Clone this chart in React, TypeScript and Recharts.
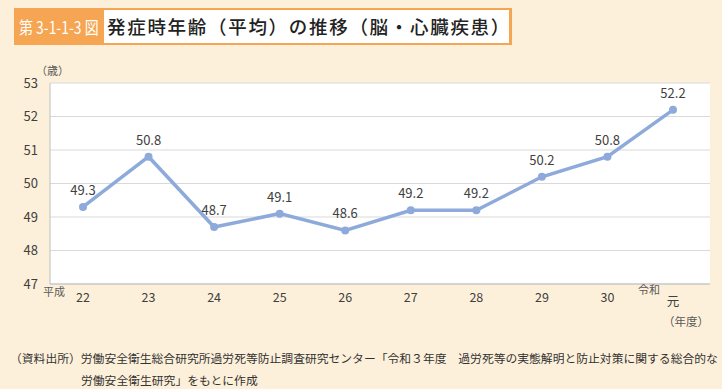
import React from "react";
import {
  LineChart, Line, XAxis, YAxis, CartesianGrid, LabelList,
} from "recharts";

const YEARS = ["22", "23", "24", "25", "26", "27", "28", "29", "30", "元"];
const AGE = [49.3, 50.8, 48.7, 49.1, 48.6, 49.2, 49.2, 50.2, 50.8, 52.2];
const Y_TICKS = [47, 48, 49, 50, 51, 52, 53];

const TITLE_NO = "第 3-1-1-3 図";
const TITLE = "発症時年齢（平均）の推移（脳・心臓疾患）";
const SOURCE_1 = "（資料出所）労働安全衛生総合研究所過労死等防止調査研究センター「令和３年度　過労死等の実態解明と防止対策に関する総合的な";
const SOURCE_2 = "労働安全衛生研究」をもとに作成";

const data = YEARS.map((y, i) => ({ year: y, age: AGE[i] }));

const FONT = "'Noto Sans CJK JP', 'Noto Sans', sans-serif";
const TXT = "#404040";

function YearTick(props: any) {
  const { x, y, payload, index } = props;
  const last = index === YEARS.length - 1;
  return (
    <g>
      {index === 0 && (
        <text x={x - 29} y={y + 1} fontSize={11} fill="#595959"
          textAnchor="middle" dominantBaseline="middle">平成</text>
      )}
      {last && (
        <text x={x - 24} y={y - 1} fontSize={11} fill="#595959"
          textAnchor="middle" dominantBaseline="middle">令和</text>
      )}
      <text x={x} y={last ? y + 11 : y + 7} fontSize={12.5} fill={TXT}
        textAnchor="middle" dominantBaseline="middle">{payload.value}</text>
    </g>
  );
}

export default function App() {
  return (
    <div style={{
      position: "absolute", left: 0, top: 0, width: 722, height: 389,
      background: "#fdf0da", fontFamily: FONT, overflow: "hidden",
    }}>
      {/* Title bar */}
      <div style={{
        position: "absolute", left: 14, top: 8, width: 498, height: 37,
        background: "#f6a552",
      }} />
      <div style={{
        position: "absolute", left: 19, top: 8, height: 37, lineHeight: "37px",
        color: "#fff", fontSize: 17, whiteSpace: "nowrap",
        transform: "scaleX(0.82)", transformOrigin: "left center",
      }}>{TITLE_NO}</div>
      <div style={{
        position: "absolute", left: 104, top: 10, width: 405, height: 33,
        background: "#fff", lineHeight: "33px", paddingLeft: 3,
        boxSizing: "border-box", fontSize: 18.5, fontWeight: 500, color: "#222",
        whiteSpace: "nowrap", letterSpacing: 1.7,
      }}>{TITLE}</div>

      <div style={{
        position: "absolute", left: 36, top: 62, fontSize: 11, color: "#595959",
      }}>（歳）</div>

      <LineChart width={722} height={389} data={data}
        margin={{ top: 83, right: 12, bottom: 75, left: 10 }}
        style={{ position: "absolute", left: 0, top: 0 }}>
        <CartesianGrid vertical={false} stroke="#d9d9d9" fill="#ffffff" />
        <XAxis dataKey="year" height={30} tickLine={false}
          padding={{ left: 33, right: 37 }}
          axisLine={{ stroke: "#bfbfbf" }} tick={<YearTick />} interval={0} />
        <XAxis xAxisId="top" orientation="top" dataKey="year" height={0}
          tick={false} tickLine={false} axisLine={{ stroke: "#bfbfbf" }} />
        <YAxis domain={[47, 53]} ticks={Y_TICKS} width={40} tickSize={0}
          tickMargin={12} tickLine={false} axisLine={{ stroke: "#bfbfbf" }}
          tick={{ fontSize: 13, fill: TXT }} />
        <YAxis yAxisId="r" orientation="right" domain={[47, 53]} width={0}
          tick={false} tickLine={false} axisLine={{ stroke: "#bfbfbf" }} />
        <Line dataKey="age" stroke="#8eaadb" strokeWidth={3.5}
          dot={{ r: 4, fill: "#8eaadb", stroke: "#8eaadb", strokeWidth: 0 }}
          isAnimationActive={false}>
          <LabelList dataKey="age" position="top" offset={12}
            fontSize={13} fill={TXT} formatter={(v: any) => Number(v).toFixed(1)} />
        </Line>
      </LineChart>

      <div style={{
        position: "absolute", left: 663, top: 313, fontSize: 11.5, color: "#595959",
      }}>（年度）</div>

      <div style={{
        position: "absolute", left: 10, top: 347, fontSize: 11.8, color: "#333",
        whiteSpace: "nowrap", lineHeight: "22px",
      }}>
        <div>{SOURCE_1}</div>
        <div style={{ paddingLeft: 71 }}>{SOURCE_2}</div>
      </div>
    </div>
  );
}
